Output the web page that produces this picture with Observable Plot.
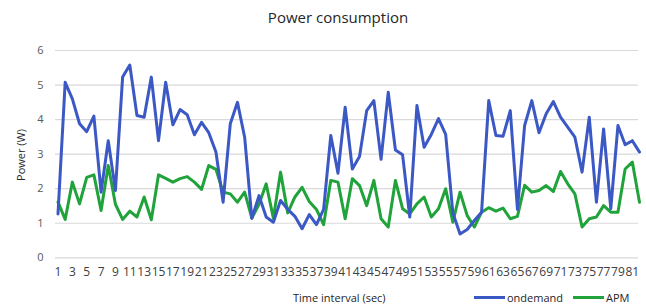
<!DOCTYPE html>
<html>
<head>
<meta charset="utf-8">
<script src="https://cdn.jsdelivr.net/npm/d3@7"></script>
<script src="https://cdn.jsdelivr.net/npm/@observablehq/plot@0.6"></script>
<style>
  body { margin: 0; background: #fff; font-family: "Open Sans", sans-serif; }
  #wrap { position: relative; width: 646px; height: 306px; overflow: hidden; background: #fff; }
  #title { position: absolute; left: 338px; top: 7px; transform: translateX(-50%); font-size: 15px; color: #262626; white-space: nowrap; }
  #ylab { position: absolute; left: 20px; top: 155px; transform: translate(-50%, -50%) rotate(-90deg); font-size: 11px; color: #262626; white-space: nowrap; }
  #xlab { position: absolute; left: 293px; top: 290px; font-size: 11px; color: #262626; white-space: nowrap; }
  #legend { position: absolute; left: 474px; top: 290px; font-size: 11px; color: #262626; display: flex; align-items: center; white-space: nowrap; }
  .sw { display: inline-block; width: 31px; height: 3px; margin-right: 2px; }
  #wrap svg { position: absolute; left: 0; top: 0; }
</style>
</head>
<body>
<div id="wrap">
  <div id="title">Power consumption</div>
  <div id="ylab">Power (W)</div>
  <div id="xlab">Time interval (sec)</div>
  <div id="legend">
    <span class="sw" style="background:#3b58c4"></span><span>ondemand</span>
    <span class="sw" style="background:#1fa33a;margin-left:10px"></span><span>APM</span>
  </div>
</div>
<script>
const ondemand = [1.27,5.08,4.6,3.88,3.65,4.1,1.9,3.39,1.95,5.23,
  5.58,4.12,4.07,5.23,3.39,5.08,3.85,4.29,4.14,3.56,
  3.92,3.62,3.06,1.61,3.88,4.5,3.49,1.14,1.8,1.18,
  1.03,1.66,1.4,1.2,0.84,1.25,0.96,1.4,3.54,2.45,
  4.36,2.57,2.93,4.26,4.55,2.85,4.79,3.12,2.98,1.18,
  4.41,3.2,3.57,4.03,3.57,1.3,0.69,0.82,1.08,1.32,
  4.55,3.54,3.52,4.26,1.4,3.83,4.55,3.62,4.17,4.52,
  4.07,3.78,3.49,2.48,4.07,1.61,3.73,1.42,3.83,3.27,
  3.39,3.06];
const apm = [1.61,1.11,2.19,1.56,2.33,2.4,1.37,2.67,1.55,1.11,
  1.35,1.18,1.76,1.1,2.4,2.3,2.19,2.29,2.35,2.19,
  1.98,2.67,2.56,1.9,1.85,1.61,1.9,1.15,1.55,2.14,
  1.15,2.48,1.3,1.76,2.04,1.63,1.4,0.96,2.24,2.19,
  1.13,2.29,2.09,1.51,2.24,1.13,0.89,2.24,1.42,1.27,
  1.56,1.76,1.18,1.42,2.0,1.03,1.9,1.22,0.89,1.32,
  1.45,1.35,1.44,1.13,1.2,2.1,1.9,1.95,2.09,1.92,
  2.5,2.14,1.85,0.89,1.13,1.18,1.51,1.32,1.32,2.57,
  2.77,1.61];
const xTickLabels = [1,3,5,7,9,11,13,15,17,19,21,23,25,27,29,31,33,35,37,39,41,43,45,47,49,51,53,55,57,59,61,63,65,67,69,71,73,75,77,79,81];
const yTickLabels = [0,1,2,3,4,5,6];

const rowsOn = ondemand.map((v, i) => ({t: i + 1, v}));
const rowsApm = apm.map((v, i) => ({t: i + 1, v}));

const chart = Plot.plot({
  width: 646,
  height: 306,
  marginLeft: 55,
  marginRight: 8,
  marginTop: 50,
  marginBottom: 49,
  style: {fontFamily: "Open Sans, sans-serif", background: "transparent"},
  x: {domain: [1, 82], range: [57.5, 639]},
  y: {domain: [0, 6], range: [257.3, 50]},
  marks: [
    Plot.gridY(yTickLabels, {stroke: "#d9d9d9", strokeOpacity: 1, strokeWidth: 1.2}),
    Plot.axisY(yTickLabels, {tickSize: 0, tickPadding: 12, fontSize: 11, fill: "#595959", label: null}),
    Plot.axisX(xTickLabels, {tickSize: 0, tickPadding: 10, fontSize: 12, fill: "#404040", label: null}),
    Plot.line(rowsApm, {x: "t", y: "v", stroke: "#1fa33a", strokeWidth: 3, strokeLinejoin: "round"}),
    Plot.line(rowsOn, {x: "t", y: "v", stroke: "#3b58c4", strokeWidth: 3, strokeLinejoin: "round"})
  ]
});
document.getElementById("wrap").prepend(chart);
</script>
</body>
</html>
